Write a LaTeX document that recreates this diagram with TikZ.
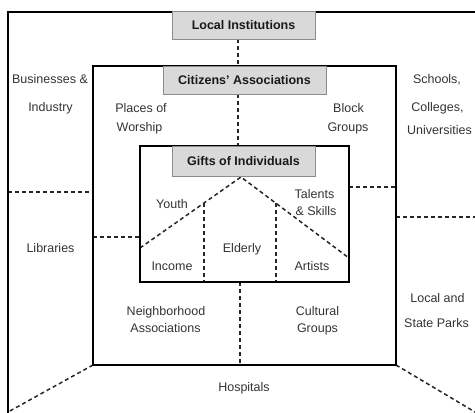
\documentclass[tikz,border=0pt]{standalone}
\usepackage{fontspec}
\setmainfont{Liberation Sans}
\begin{document}
\begin{tikzpicture}[x=1pt,y=-1pt,
  frame/.style={line width=2.6pt, draw=black},
  framebox/.style={frame, inner sep=0pt, outer sep=0pt},
  dline/.style={line width=1.5pt, dash pattern=on 4pt off 3pt, draw=black!85},
  lbl/.style={font=\fontsize{12.5}{15}\selectfont, text=black!80, anchor=base, inner sep=0pt},
  titlebox/.style={draw=black!45, fill=black!15, line width=0.9pt, font=\bfseries\fontsize{12.5}{15}\selectfont, text=black!90, text height=9pt, text depth=0pt, inner sep=0pt, outer sep=0pt}
]
\useasboundingbox (0,0) rectangle (475,413);
\clip (0,0) rectangle (475,413);

% frames (as nodes, drawn later)
\node[minimum width=303pt, minimum height=299pt, inner sep=0pt, outer sep=0pt] (mid) at (244.5,215.5) {};
\node[minimum width=209pt, minimum height=136pt, inner sep=0pt, outer sep=0pt] (in) at (244.5,214) {};
\coordinate (otl) at (8,12);
\coordinate (otr) at (520,12);
\coordinate (obl) at (8,460);

% title boxes
\node[titlebox, minimum width=143pt, minimum height=28pt] (li) at (243.5,25) {Local Institutions};
\node[titlebox, minimum width=163pt, minimum height=28pt] (ca) at (244.5,80) {Citizens' Associations};
\node[titlebox, minimum width=143pt, minimum height=30pt] (gi) at (243.5,161) {Gifts of Individuals};

% helper coordinates
\coordinate (c1) at (238,0);
\coordinate (c2) at (240,0);
\coordinate (yl1) at (0,192);
\coordinate (yl2) at (0,237);
\coordinate (yr1) at (0,187);
\coordinate (yr2) at (0,217);
\coordinate (orr) at (480,217);
\coordinate (dbl) at (8,412);
\coordinate (dbr) at (480,415);
\coordinate (apex) at (241,177);
\coordinate (ry1) at (0,248);
\coordinate (ry2) at (0,258);
\coordinate (v1) at (204,203);
\coordinate (v2) at (276,203);

% dashed connectors
\draw[dline] (li.south -| c1) -- (mid.north -| c1);
\draw[dline] (ca.south -| c1) -- (in.north -| c1);
\draw[dline] (in.south -| c2) -- (mid.south -| c2);
\draw[dline] (otl |- yl1) -- (mid.west |- yl1);
\draw[dline] (mid.west |- yl2) -- (in.west |- yl2);
\draw[dline] (in.east |- yr1) -- (mid.east |- yr1);
\draw[dline] (mid.east |- yr2) -- (orr);
\draw[dline] (mid.south west) -- (dbl);
\draw[dline] (mid.south east) -- (dbr);
\draw[dline] (in.west |- ry1) -- (apex) -- (in.east |- ry2);
\draw[dline] (v1) -- (v1 |- in.south);
\draw[dline] (v2) -- (v2 |- in.south);

% solid frames
\draw[frame] (otr) -- (otl) -- (obl);
\draw[frame] (mid.north west) rectangle (mid.south east);
\draw[frame] (in.north west) rectangle (in.south east);

% redraw title boxes on top
\node[titlebox, minimum width=143pt, minimum height=28pt] (li2) at (li) {Local Institutions};
\node[titlebox, minimum width=163pt, minimum height=28pt] (ca2) at (ca) {Citizens' Associations};
\node[titlebox, minimum width=143pt, minimum height=30pt] (gi2) at (gi) {Gifts of Individuals};

% labels
\node[lbl] (t1) at (50,83) {Businesses \&};
\node[lbl] (t2) at (50.5,111) {Industry};
\node[lbl] (t3) at (437,83) {Schools,};
\node[lbl] (t4) at (437.5,111) {Colleges,};
\node[lbl] (t5) at (439.5,134) {Universities};
\node[lbl] (t6) at (141,112) {Places of};
\node[lbl] (t7) at (139.5,131) {Worship};
\node[lbl] (t8) at (348.5,112) {Block};
\node[lbl] (t9) at (348,131) {Groups};
\node[lbl] (t10) at (172,208) {Youth};
\node[lbl] (t11) at (314.5,198) {Talents};
\node[lbl] (t12) at (316,215) {\& Skills};
\node[lbl] (t13) at (50.5,252) {Libraries};
\node[lbl] (t14) at (242,252) {Elderly};
\node[lbl] (t15) at (172,270) {Income};
\node[lbl] (t16) at (312,270) {Artists};
\node[lbl] (t17) at (166,315) {Neighborhood};
\node[lbl] (t18) at (165.5,332) {Associations};
\node[lbl] (t19) at (317.5,315) {Cultural};
\node[lbl] (t20) at (317.5,332) {Groups};
\node[lbl] (t21) at (437.5,302) {Local and};
\node[lbl] (t22) at (436.5,327) {State Parks};
\node[lbl] (t23) at (244,391) {Hospitals};
\end{tikzpicture}
\end{document}
